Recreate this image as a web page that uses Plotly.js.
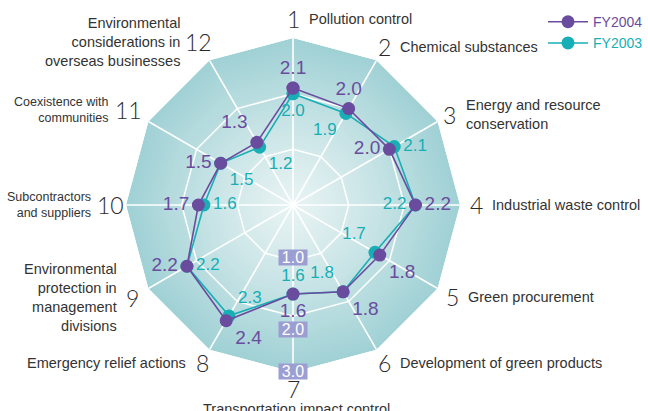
<!DOCTYPE html>
<html>
<head>
<meta charset="utf-8">
<script src="https://cdn.plot.ly/plotly-3.0.1.min.js"></script>
<style>html,body{margin:0;padding:0;background:#fff;}#chart{width:648px;height:411px;}</style>
</head>
<body>
<div id="chart"></div>
<script>
// ---- data ----
const categories = ['1','2','3','4','5','6','7','8','9','10','11','12'];
const categoryNames = [
  'Pollution control',
  'Chemical substances',
  'Energy and resource<br>conservation',
  'Industrial waste control',
  'Green procurement',
  'Development of green products',
  'Transportation impact control',
  'Emergency relief actions',
  'Environmental<br>protection in<br>management<br>divisions',
  'Subcontractors<br>and suppliers',
  'Coexistence with<br>communities',
  'Environmental<br>considerations in<br>overseas businesses'
];
const fy2004 = [2.1, 2.0, 2.0, 2.2, 1.8, 1.8, 1.6, 2.4, 2.2, 1.7, 1.5, 1.3];
const fy2003 = [2.0, 1.9, 2.1, 2.2, 1.7, 1.8, 1.6, 2.3, 2.2, 1.6, 1.5, 1.2];
const radialTickValues = [1, 2, 3];
const radialTickLabels = ['1.0', '2.0', '3.0'];
const radialMax = 3;

// ---- styles ----
const W = 648, H = 411;
const CX = 293, CY = 205, R = 167;
const C2004 = '#6a4c9e', C2003 = '#17aeb5';
const pos2004 = ['top center','top center','middle left','middle right','bottom right','bottom right','bottom center','bottom right','middle left','middle left','middle left','top left'];
const pos2003 = ['bottom center','bottom left','middle right','middle left','top left','top left','top center','top right','middle right','middle right','bottom right','bottom right'];
const nameSizes = [14.5,14.5,14.5,14.5,14.5,14.5,14.5,14.5,14.5,12.5,12.5,14.5];
const labelDist = [186,182,181,183,184,182,184,182,185,183,190,188];
const tickShift = [3, -13, 1];

function lerp(a,b,t){return Math.round(a+(b-a)*t);}
function mix(c1,c2,t){return 'rgb('+lerp(c1[0],c2[0],t)+','+lerp(c1[1],c2[1],t)+','+lerp(c1[2],c2[2],t)+')';}
const centerCol = [232,243,243], edgeCol = [160,209,213];

const closedCats = categories.concat([categories[0]]);
const traces = [];

// background gradient (decorative)
const N = 50;
for (let k = N; k >= 1; k--) {
  const r = radialMax * k / N;
  const t = Math.pow(k / N, 1.2);
  traces.push({
    type:'scatterpolar', mode:'lines', r: closedCats.map(()=>r), theta: closedCats,
    fill:'toself', fillcolor: mix(centerCol, edgeCol, t), line:{width:0, color:'rgba(0,0,0,0)'},
    hoverinfo:'skip', showlegend:false
  });
}
// grid rings
radialTickValues.slice(0, -1).forEach(v => {
  traces.push({type:'scatterpolar', mode:'lines', r: closedCats.map(()=>v), theta: closedCats,
    line:{color:'#ffffff', width:1.5}, hoverinfo:'skip', showlegend:false});
});
// spokes
categories.forEach(c => {
  traces.push({type:'scatterpolar', mode:'lines', r:[0, radialMax], theta:[c, c],
    line:{color:'#ffffff', width:1.6}, hoverinfo:'skip', showlegend:false});
});
// data
traces.push({
  type:'scatterpolar', mode:'lines+markers+text', name:'<span style="color:'+C2003+'">FY2003</span>',
  r: fy2003.concat([fy2003[0]]), theta: closedCats,
  text: fy2003.map(v=>v.toFixed(1)).concat(['']), textposition: pos2003.concat(['top center']),
  textfont:{color:C2003, size:17, family:'Liberation Sans, Arial, sans-serif'},
  line:{color:C2003, width:1.6}, marker:{color:C2003, size:13}, legendrank:2, cliponaxis:false
});
traces.push({
  type:'scatterpolar', mode:'lines+markers+text', name:'<span style="color:'+C2004+'">FY2004</span>',
  r: fy2004.concat([fy2004[0]]), theta: closedCats,
  text: fy2004.map(v=>v.toFixed(1)).concat(['']), textposition: pos2004.concat(['top center']),
  textfont:{color:C2004, size:19, family:'Liberation Sans, Arial, sans-serif'},
  line:{color:C2004, width:1.6}, marker:{color:C2004, size:13}, legendrank:1, cliponaxis:false
});

function px(x, y){ return {x: x / W, y: 1 - y / H}; }

const annotations = [];
// category labels
categories.forEach((c, i) => {
  const th = (90 - 30 * i) * Math.PI / 180;
  const nx = CX + labelDist[i] * Math.cos(th), ny = CY - labelDist[i] * Math.sin(th);
  const p = px(nx, ny);
  annotations.push({xref:'paper', yref:'paper', x:p.x, y:p.y, xanchor:'center', yanchor:'middle',
    text:c, showarrow:false, font:{family:'Lato, Liberation Sans, sans-serif', size:23, color:'#2a2a2a', weight:300}});
  const nameFont = {family:'Liberation Sans, Arial, sans-serif', size:nameSizes[i], color:'#333'};
  const off = c.length > 1 ? 17 : 14;
  if (i === 6) {
    const q = px(nx + 3, ny + 10);
    annotations.push({xref:'paper', yref:'paper', x:q.x, y:q.y, xanchor:'center', yanchor:'top',
      text:categoryNames[i], showarrow:false, font:nameFont});
  } else if (i < 6) {
    const q = px(nx + off, ny);
    annotations.push({xref:'paper', yref:'paper', x:q.x, y:q.y, xanchor:'left', yanchor:'middle', align:'left',
      text:categoryNames[i], showarrow:false, font:nameFont});
  } else {
    const q = px(nx - off, ny);
    annotations.push({xref:'paper', yref:'paper', x:q.x, y:q.y, xanchor:'right', yanchor:'middle', align:'right',
      text:categoryNames[i], showarrow:false, font:nameFont});
  }
});
// radial tick labels on the bottom spoke
radialTickValues.forEach((v, i) => {
  const p = px(CX, CY + v / radialMax * R);
  annotations.push({xref:'paper', yref:'paper', x:p.x, y:p.y, xanchor:'center', yanchor:'middle', yshift: tickShift[i],
    text:radialTickLabels[i], showarrow:false, bgcolor:'#9c9ed2', borderpad:0, width:28, height:15,
    font:{family:'Liberation Sans, Arial, sans-serif', size:16, color:'#ffffff'}});
});

const layout = {
  width:W, height:H, margin:{l:0, r:0, t:0, b:0},
  paper_bgcolor:'#ffffff', showlegend:true,
  polar:{
    domain:{x:[(CX - R) / W, (CX + R) / W], y:[1 - (CY + R) / H, 1 - (CY - R) / H]},
    bgcolor:'rgba(0,0,0,0)', gridshape:'linear',
    radialaxis:{range:[0, radialMax], showgrid:false, showline:false, showticklabels:false, ticks:''},
    angularaxis:{type:'category', categoryarray:categories, rotation:90, direction:'clockwise',
      showgrid:false, showline:false, showticklabels:false, ticks:''}
  },
  legend:{x:1, y:0.985, xanchor:'right', yanchor:'top', itemwidth:40, bgcolor:'rgba(0,0,0,0)',
    font:{family:'Liberation Sans, Arial, sans-serif', size:14}},
  annotations:annotations
};

Plotly.newPlot('chart', traces, layout, {staticPlot:true, displayModeBar:false});
</script>
</body>
</html>
